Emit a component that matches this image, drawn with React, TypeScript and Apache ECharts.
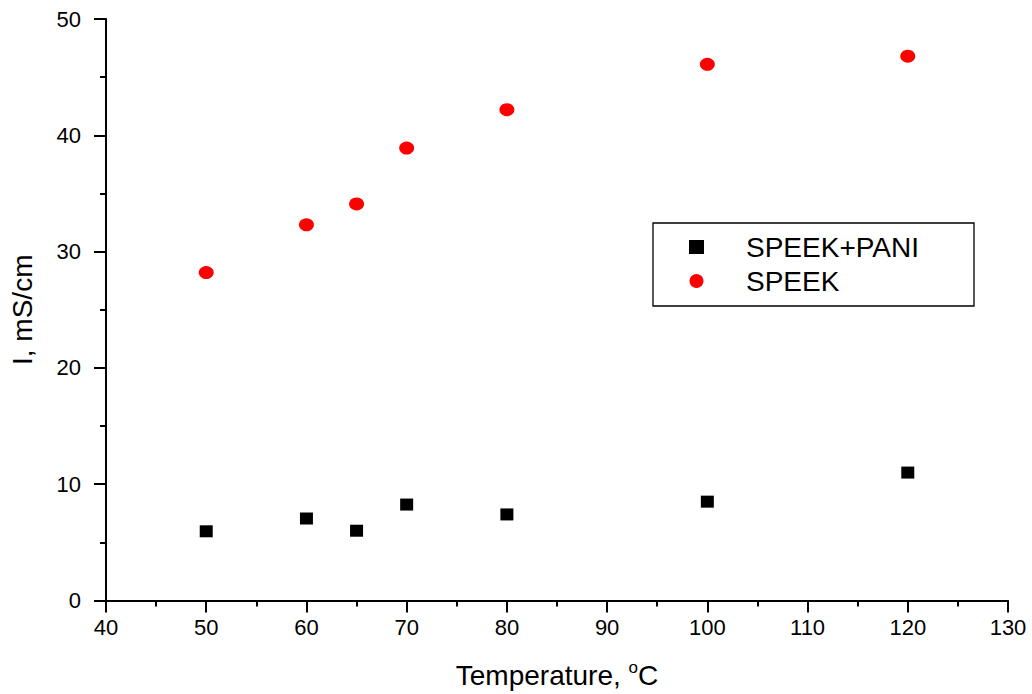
import React, { useEffect, useRef } from "react";
import * as echarts from "echarts";

const temperatures = [50, 60, 65, 70, 80, 100, 120];
const speekPani = [5.95, 7.05, 6.0, 8.25, 7.4, 8.5, 11.0];
const speek = [28.2, 32.3, 34.1, 38.9, 42.2, 46.1, 46.8];
const seriesNames = ["SPEEK+PANI", "SPEEK"];

const FONT = "Arial, 'Liberation Sans', sans-serif";

export default function App() {
  const ref = useRef<HTMLDivElement>(null);
  useEffect(() => {
    if (!ref.current) return;
    const chart = echarts.init(ref.current, undefined, { renderer: "svg" });
    const axisCommon = {
      axisLine: { show: true, onZero: false, lineStyle: { color: "#000", width: 2 } },
      axisTick: { show: true, inside: false, length: 12, lineStyle: { color: "#000", width: 2 } },
      minorTick: { show: true, splitNumber: 2, length: 6, lineStyle: { color: "#000", width: 2 } },
      splitLine: { show: false },
      minorSplitLine: { show: false },
    };
    chart.setOption({
      animation: false,
      backgroundColor: "#fff",
      textStyle: { fontFamily: FONT },
      grid: { left: 106, top: 19, right: 24, bottom: 91, containLabel: false },
      xAxis: {
        type: "value",
        min: 40,
        max: 130,
        interval: 10,
        ...axisCommon,
        axisLabel: { color: "#000", fontSize: 22, margin: 16, fontFamily: FONT },
        name: "Temperature, {sup|o}C",
        nameLocation: "middle",
        nameGap: 58,
        nameTextStyle: {
          color: "#000",
          fontSize: 28,
          fontFamily: FONT,
          rich: { sup: { fontSize: 17, verticalAlign: "top", color: "#000", padding: [0, 0, 16, 0], fontFamily: FONT } },
        },
      },
      yAxis: {
        type: "value",
        min: 0,
        max: 50,
        interval: 10,
        ...axisCommon,
        axisLabel: { color: "#000", fontSize: 22, margin: 25, fontFamily: FONT },
        name: "I, mS/cm",
        nameLocation: "middle",
        nameGap: 70,
        nameTextStyle: { color: "#000", fontSize: 28, fontFamily: FONT },
      },
      legend: {
        orient: "vertical",
        left: 653,
        top: 223,
        padding: [10, 55, 11, 36],
        itemGap: 6,
        itemWidth: 15,
        itemHeight: 14,
        symbolKeepAspect: true,
        borderColor: "#000",
        borderWidth: 1.3,
        textStyle: { color: "#000", fontSize: 28, fontFamily: FONT, padding: [0, 0, 0, 37] },
        data: [
          { name: seriesNames[0], icon: "rect" },
          { name: seriesNames[1], icon: "circle" },
        ],
      },
      series: [
        {
          name: seriesNames[0],
          type: "scatter",
          symbol: "rect",
          symbolSize: [13, 12],
          itemStyle: { color: "#000", opacity: 1 },
          data: temperatures.map((t, i) => [t, speekPani[i]]),
        },
        {
          name: seriesNames[1],
          type: "scatter",
          symbol: "circle",
          symbolSize: [15, 13],
          itemStyle: { color: "#ff0000", opacity: 1 },
          data: temperatures.map((t, i) => [t, speek[i]]),
        },
      ],
    });
    return () => chart.dispose();
  }, []);
  return (
    <div
      ref={ref}
      style={{ position: "absolute", left: 0, top: 0, width: 1032, height: 694 }}
    />
  );
}
